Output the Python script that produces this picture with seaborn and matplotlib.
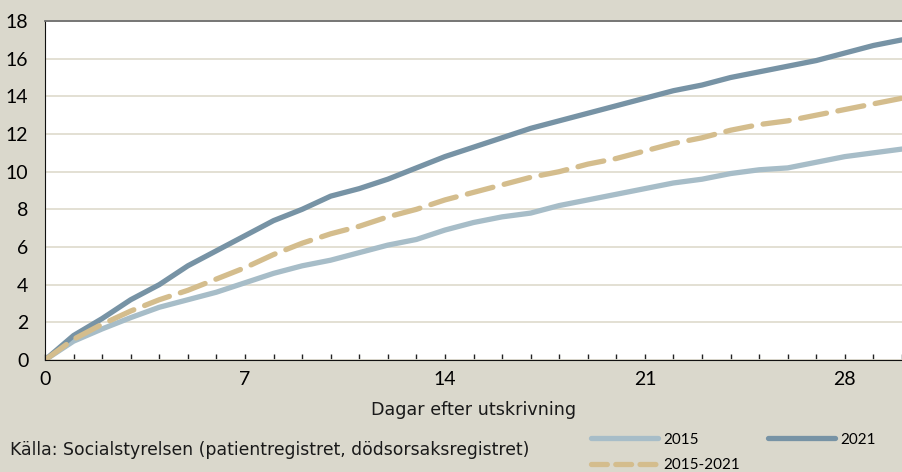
import numpy as np
import pandas as pd
import seaborn as sns
import matplotlib.pyplot as plt
from matplotlib.lines import Line2D
from matplotlib.ticker import MultipleLocator

# Days after discharge
days = list(range(0, 31))

# Cumulative share (%) per series
y2015 = [0, 1.0, 1.65, 2.25, 2.8, 3.2, 3.6, 4.1, 4.6, 5.0, 5.3, 5.7, 6.1, 6.4, 6.9,
         7.3, 7.6, 7.8, 8.2, 8.5, 8.8, 9.1, 9.4, 9.6, 9.9, 10.1, 10.2, 10.5, 10.8, 11.0, 11.2]
y2021 = [0, 1.3, 2.2, 3.2, 4.0, 5.0, 5.8, 6.6, 7.4, 8.0, 8.7, 9.1, 9.6, 10.2, 10.8,
         11.3, 11.8, 12.3, 12.7, 13.1, 13.5, 13.9, 14.3, 14.6, 15.0, 15.3, 15.6, 15.9, 16.3, 16.7, 17.0]
y2015_2021 = [0, 1.1, 1.9, 2.6, 3.2, 3.7, 4.3, 4.9, 5.6, 6.2, 6.7, 7.1, 7.6, 8.0, 8.5,
              8.9, 9.3, 9.7, 10.0, 10.4, 10.7, 11.1, 11.5, 11.8, 12.2, 12.5, 12.7, 13.0, 13.3, 13.6, 13.9]

series_names = ["2015", "2021", "2015-2021"]
series_colors = {"2015": "#a7bdc8", "2021": "#7793a5", "2015-2021": "#d4bd8d"}

df = pd.DataFrame({
    "Dag": days * 3,
    "Andel": y2015 + y2021 + y2015_2021,
    "Serie": ["2015"] * len(days) + ["2021"] * len(days) + ["2015-2021"] * len(days),
})

bg = "#dad8cc"
plt.rcParams["font.family"] = ["Lato", "DejaVu Sans"]

fig = plt.figure(figsize=(9.02, 4.72), dpi=100, facecolor=bg)
ax = fig.add_axes([45 / 902, 112 / 472, 857 / 902, 339 / 472])
ax.set_facecolor("white")

for name in series_names:
    sub = df[df["Serie"] == name]
    sns.lineplot(data=sub, x="Dag", y="Andel", ax=ax, color=series_colors[name],
                 linewidth=3.8, legend=False, solid_capstyle="round")
ax.lines[2].set_dashes([5, 2.2])
ax.lines[2].set_dash_capstyle("round")

ax.set_xlim(0, 30)
ax.set_ylim(0, 18)
ax.yaxis.set_major_locator(MultipleLocator(2))
ax.xaxis.set_major_locator(MultipleLocator(7))
ax.xaxis.set_minor_locator(MultipleLocator(1))
ax.grid(axis="y", color="#e0ddd0", linewidth=1.3)
ax.set_axisbelow(True)

ax.tick_params(axis="x", which="both", direction="in", length=4.5, width=1, color="#222222",
               labelsize=14, pad=8)
ax.tick_params(axis="y", length=0, labelsize=14, pad=12)
ax.spines["right"].set_visible(False)
ax.spines["top"].set_color("#6e6e6e")
ax.spines["top"].set_linewidth(1.3)
ax.spines["left"].set_color("#111111")
ax.spines["bottom"].set_color("#111111")

ax.set_xlabel("Dagar efter utskrivning", fontsize=12.6, family=["DejaVu Sans"],
              labelpad=9, color="#1a1a1a")
ax.set_ylabel("")

fig.text(10 / 902, 1 - 450 / 472, "Källa: Socialstyrelsen (patientregistret, dödsorsaksregistret)",
         fontsize=12.45, family=["DejaVu Sans"], va="center", ha="left", color="#1a1a1a")

handles = [
    Line2D([], [], color=series_colors["2015"], linewidth=3.8, solid_capstyle="round"),
    Line2D([], [], color=series_colors["2015-2021"], linewidth=3.8, dashes=[3, 1.6],
           dash_capstyle="round"),
    Line2D([], [], color=series_colors["2021"], linewidth=3.8, solid_capstyle="round"),
]
fig.legend(handles, ["2015", "2015-2021", "2021"], ncol=2, frameon=False,
           loc="upper left", bbox_to_anchor=(577 / 902, 1 - 419 / 472),
           handlelength=4.4, columnspacing=1.8, labelspacing=0.75,
           handletextpad=0.35, prop={"size": 11})

fig.savefig("out.png", dpi=100, facecolor=bg)
